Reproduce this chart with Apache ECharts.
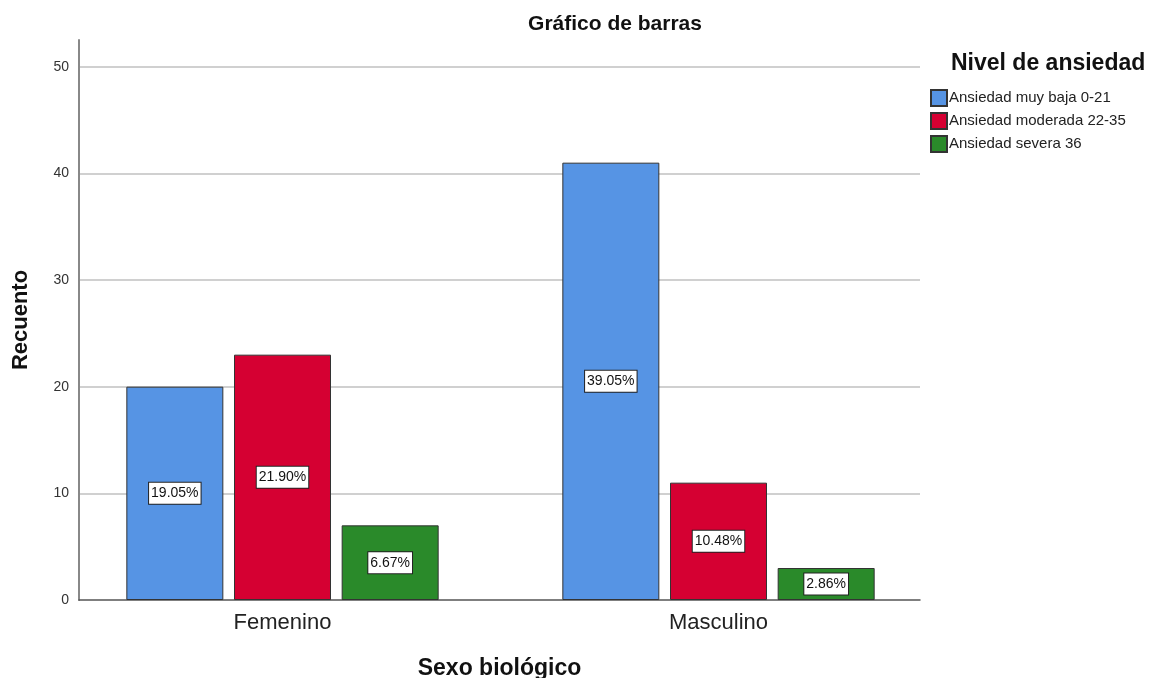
<!DOCTYPE html>
<html>
<head>
<meta charset="utf-8">
<title>Gráfico de barras</title>
<script src="https://cdn.jsdelivr.net/npm/echarts@6/dist/echarts.min.js"></script>
<style>
    html, body { margin: 0; padding: 0; background: #fff; }
    #chart { width: 1171px; height: 678px; }
</style>
</head>
<body>
<div id="chart"></div>
<script>
// data
const categories = ['Femenino', 'Masculino'];
const levels = ['Ansiedad muy baja 0-21', 'Ansiedad moderada 22-35', 'Ansiedad severa 36'];
const countMuyBaja = [20, 41];
const countModerada = [23, 11];
const countSevera = [7, 3];
const pctMuyBaja = ['19.05%', '39.05%'];
const pctModerada = ['21.90%', '10.48%'];
const pctSevera = ['6.67%', '2.86%'];
const yTicks = [0, 10, 20, 30, 40, 50];

const colors = ['#5694e4', '#d50032', '#2a8a2a'];
const font = '"Liberation Sans", Arial, sans-serif';

function makeSeries(name, values, pcts, color) {
    return {
        name: name,
        type: 'bar',
        xAxisIndex: 1,
        yAxisIndex: 1,
        data: values,
        barWidth: 97,
        barGap: '11%',
        itemStyle: { color: color, borderColor: '#333', borderWidth: 1 },
        label: {
            show: true,
            position: 'inside',
            formatter: p => pcts[p.dataIndex],
            color: '#111',
            fontFamily: font,
            fontSize: 14,
            backgroundColor: '#fff',
            borderColor: '#222',
            borderWidth: 1,
            padding: [4, 2, 3, 2]
        }
    };
}

const chart = echarts.init(document.getElementById('chart'));

chart.setOption({
    animation: false,
    backgroundColor: '#fff',
    title: [{
        text: 'Gráfico de barras',
        left: 610,
        textAlign: 'center',
        top: 9,
        textStyle: { fontFamily: font, fontSize: 21, fontWeight: 'bold', color: '#111' }
    }, {
        text: 'Nivel de ansiedad',
        left: 946,
        top: 47,
        textStyle: { fontFamily: font, fontSize: 23, fontWeight: 'bold', color: '#111' }
    }],
    legend: {
        data: levels,
        orient: 'vertical',
        left: 925,
        top: 84,
        itemWidth: 16,
        itemHeight: 16,
        itemGap: 5,
        icon: 'rect',
        textStyle: { fontFamily: font, fontSize: 15, color: '#222', padding: [0, 0, 0, -3] }
    },
    // grid 0 carries the visible axes, grid 1 places the bars
    grid: [
        { left: 79, right: 251, top: 40, bottom: 78, outerBoundsMode: 'none' },
        { left: 64.5, right: 234.5, top: 40, bottom: 78, outerBoundsMode: 'none' }
    ],
    xAxis: [{
        type: 'category',
        gridIndex: 0,
        data: categories,
        axisLine: { lineStyle: { color: '#555', width: 1.5 } },
        axisTick: { show: false },
        axisLabel: { show: false },
        name: 'Sexo biológico',
        nameLocation: 'middle',
        nameGap: 57,
        nameTextStyle: { fontFamily: font, fontSize: 23, fontWeight: 'bold', color: '#111' }
    }, {
        type: 'category',
        gridIndex: 1,
        data: categories,
        axisLine: { show: false },
        axisTick: { show: false },
        axisLabel: { fontFamily: font, fontSize: 22, color: '#222', margin: 12 }
    }],
    yAxis: [{
        type: 'value',
        gridIndex: 0,
        min: yTicks[0],
        max: 52.5,
        interval: 10,
        axisLine: { show: true, lineStyle: { color: '#888', width: 2 } },
        axisTick: { show: false },
        axisLabel: { fontFamily: font, fontSize: 14, color: '#333', margin: 10, showMaxLabel: false },
        splitLine: { show: true, showMinLine: false, showMaxLine: false, lineStyle: { color: '#d0d0d0', width: 2 } },
        name: 'Recuento',
        nameLocation: 'middle',
        nameGap: 47,
        nameTextStyle: { fontFamily: font, fontSize: 22, fontWeight: 'bold', color: '#111' }
    }, {
        type: 'value',
        gridIndex: 1,
        min: yTicks[0],
        max: 52.5,
        show: false
    }],
    series: [
        makeSeries(levels[0], countMuyBaja, pctMuyBaja, colors[0]),
        makeSeries(levels[1], countModerada, pctModerada, colors[1]),
        makeSeries(levels[2], countSevera, pctSevera, colors[2])
    ]
});
</script>
</body>
</html>
